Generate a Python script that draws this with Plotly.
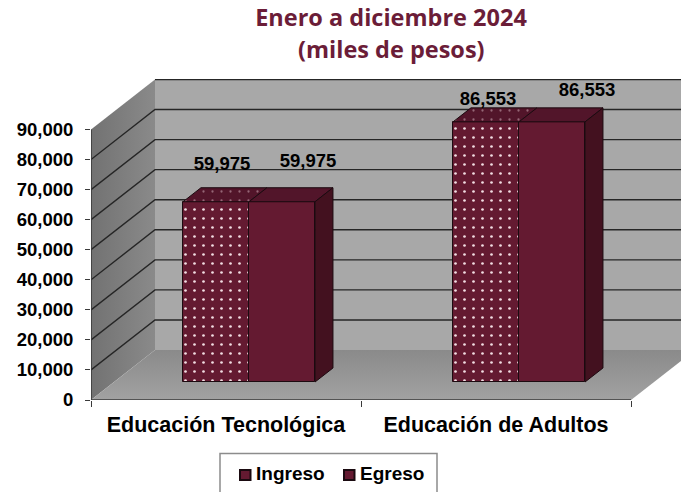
import plotly.graph_objects as go

categories = ["Educación Tecnológica", "Educación de Adultos"]
ingreso = [59975, 86553]
egreso = [59975, 86553]
value_labels = ["59,975", "86,553"]
tick_values = [0, 10000, 20000, 30000, 40000, 50000, 60000, 70000, 80000, 90000]
tick_labels = ["0", "10,000", "20,000", "30,000", "40,000", "50,000", "60,000", "70,000", "80,000", "90,000"]

# pixel geometry
W, H = 681, 492
L, B, T = 91, 400, 79
PX_CAT = 270.0
PX_VAL = 270.5 / 90000
XMAX = (W - L) / PX_CAT
YMAX = (B - T) / PX_VAL
DX = 64 / PX_CAT
DY = 50 / PX_VAL
BAR_W = 66 / PX_CAT
F0, F1 = 18 / 50, 14 / 50  # bar front offset and depth as fractions of the floor depth
TOPVAL = tick_values[-1]
NCAT = len(categories)

MAROON = "#641A31"
SIDE = "#43111F"
TOP = "#52152A"
EDGE = "#1C0A10"
TITLE = "#6B1D38"
FONT = "Liberation Sans"

def px_x(p): return (p - L) / (W - L)
def px_y(p): return (B - p) / (B - T)

fig = go.Figure()

# walls and floor
fig.add_trace(go.Scatter(x=[DX, NCAT + DX, NCAT + DX, DX, DX], y=[DY, DY, TOPVAL + DY, TOPVAL + DY, DY],
    fill="toself", mode="none", fillcolor="#A8A8A8", hoverinfo="skip", showlegend=False))
fig.add_trace(go.Scatter(x=[0, DX, DX, 0, 0], y=[0, DY, TOPVAL + DY, TOPVAL, 0],
    fill="toself", mode="none", hoverinfo="skip", showlegend=False,
    fillgradient=dict(type="horizontal", colorscale=[[0, "#727272"], [1, "#8A8A8A"]])))
fig.add_trace(go.Scatter(x=[0, NCAT, NCAT + DX, DX, 0], y=[0, 0, DY, DY, 0],
    fill="toself", mode="none", hoverinfo="skip", showlegend=False,
    fillgradient=dict(type="vertical", colorscale=[[0, "#A2A2A2"], [1, "#8A8A8A"]])))

# gridlines
gx, gy = [], []
for v in tick_values[1:]:
    if v < TOPVAL:
        gx += [0, DX, NCAT + DX, None]
        gy += [v, v + DY, v + DY, None]
    else:
        gx += [DX, NCAT + DX, None]
        gy += [v + DY, v + DY, None]
fig.add_trace(go.Scatter(x=gx, y=gy, mode="lines", line=dict(color="#262626", width=1.4),
    hoverinfo="skip", showlegend=False))
# axis lines
fig.add_trace(go.Scatter(x=[0, 0, None, 0, NCAT], y=[0, TOPVAL, None, 0, 0], mode="lines",
    line=dict(color="#3A3A3A", width=1.6), cliponaxis=False, hoverinfo="skip", showlegend=False))

# bars on an overlaid pair of axes, so they sit above the walls
shift = F0 * DX
base = F0 * DY
x_ing = [i + 0.5 + shift - BAR_W / 2 for i in range(NCAT)]
x_egr = [i + 0.5 + shift + BAR_W / 2 for i in range(NCAT)]

fig.add_trace(go.Bar(x=x_ing, y=ingreso, base=base, width=BAR_W, name="Ingreso", xaxis="x2", yaxis="y2",
    marker=dict(color=MAROON, line=dict(color=EDGE, width=1),
                pattern=dict(shape=".", fgcolor="#F2DDE2", bgcolor=MAROON, size=9, solidity=0.07, fillmode="replace")),
    showlegend=False))
fig.add_trace(go.Bar(x=x_egr, y=egreso, base=base, width=BAR_W, name="Egreso", xaxis="x2", yaxis="y2",
    marker=dict(color=MAROON, line=dict(color=EDGE, width=1)), showlegend=False))

ddx, ddy = F1 * DX, F1 * DY
def top_face(xs, vals):
    px, py = [], []
    for x, v in zip(xs, vals):
        t = v + base
        l, r = x - BAR_W / 2, x + BAR_W / 2
        px += [l, r, r + ddx, l + ddx, l, None]
        py += [t, t, t + ddy, t + ddy, t, None]
    return px, py

px, py = top_face(x_ing, ingreso)
fig.add_trace(go.Scatter(x=px, y=py, mode="lines", fill="toself", xaxis="x2", yaxis="y2",
    line=dict(color=EDGE, width=1), fillcolor=TOP, hoverinfo="skip", showlegend=False,
    fillpattern=dict(shape=".", fgcolor="#D8B8C2", bgcolor=TOP, size=9, solidity=0.05)))
px, py = top_face(x_egr, egreso)
fig.add_trace(go.Scatter(x=px, y=py, mode="lines", fill="toself", xaxis="x2", yaxis="y2",
    line=dict(color=EDGE, width=1), fillcolor=TOP, hoverinfo="skip", showlegend=False))

sx, sy = [], []
for x, v in zip(x_egr, egreso):
    r = x + BAR_W / 2
    sx += [r, r + ddx, r + ddx, r, r, None]
    sy += [base, base + ddy, v + base + ddy, v + base, base, None]
fig.add_trace(go.Scatter(x=sx, y=sy, mode="lines", fill="toself", xaxis="x2", yaxis="y2",
    line=dict(color=EDGE, width=1), fillcolor=SIDE, hoverinfo="skip", showlegend=False))

# data labels (nudged by hand in the original)
lab_dx_ing, lab_dy_ing = [6, 2], [-36, -21]
lab_dx_egr, lab_dy_egr = [26, 35], [-39, -31]
lx = [x + d / PX_CAT for x, d in zip(x_ing, lab_dx_ing)] + [x + d / PX_CAT for x, d in zip(x_egr, lab_dx_egr)]
ly = [v + base - d / PX_VAL for v, d in zip(ingreso, lab_dy_ing)] + [v + base - d / PX_VAL for v, d in zip(egreso, lab_dy_egr)]
fig.add_trace(go.Scatter(x=lx, y=ly, text=value_labels + value_labels, mode="text", textposition="middle center",
    xaxis="x2", yaxis="y2", cliponaxis=False, hoverinfo="skip", showlegend=False,
    textfont=dict(family=FONT, size=18.5, color="#000000", weight="bold")))

shapes = [
    dict(type="rect", xref="paper", yref="paper", x0=px_x(220), x1=px_x(437), y0=px_y(500), y1=px_y(453.5),
         line=dict(color="#8C8C8C", width=1.5), fillcolor="#FFFFFF"),
    dict(type="rect", xref="paper", yref="paper", x0=px_x(240), x1=px_x(250.5), y0=px_y(480), y1=px_y(470),
         line=dict(color="#1A0A10", width=2), fillcolor=MAROON),
    dict(type="rect", xref="paper", yref="paper", x0=px_x(344), x1=px_x(354.5), y0=px_y(480), y1=px_y(470),
         line=dict(color="#1A0A10", width=2), fillcolor=MAROON),
]
annotations = [
    dict(text="Ingreso", xref="paper", yref="paper", x=px_x(254), y=px_y(473.5), xanchor="left", yanchor="middle",
         showarrow=False, font=dict(family=FONT, size=19, color="#000000", weight="bold")),
    dict(text="Egreso", xref="paper", yref="paper", x=px_x(358), y=px_y(473.5), xanchor="left", yanchor="middle",
         showarrow=False, font=dict(family=FONT, size=19, color="#000000", weight="bold")),
    dict(text="(miles de pesos)", xref="paper", yref="paper", x=px_x(391), y=px_y(48.5), xanchor="center", yanchor="middle",
         showarrow=False, font=dict(family="Open Sans", size=23.5, color=TITLE, weight="bold")),
]

fig.update_layout(
    width=W, height=H, autosize=False,
    margin=dict(l=L, r=0, t=T, b=H - B, pad=0),
    paper_bgcolor="#FFFFFF", plot_bgcolor="rgba(0,0,0,0)",
    barmode="overlay", showlegend=False, bargap=0,
    title=dict(text="Enero a diciembre 2024", x=391 / W, xanchor="center",
               y=1 - 17.5 / H, yanchor="middle",
               font=dict(family="Open Sans", size=23.5, color=TITLE, weight="bold")),
    xaxis=dict(range=[0, XMAX], tickvals=[i + 0.5 for i in range(NCAT)], ticktext=categories,
               ticks="", showgrid=False, zeroline=False, showline=False, ticklabelstandoff=9,
               tickfont=dict(family=FONT, size=21.5, color="#000000", weight="bold"),
               minor=dict(tickvals=list(range(NCAT + 1)), ticks="outside", ticklen=6, tickwidth=1.2,
                          tickcolor="#3A3A3A", showgrid=False)),
    yaxis=dict(range=[0, YMAX], tickvals=tick_values, ticktext=tick_labels, ticks="outside", ticklen=5,
               tickwidth=1.2, tickcolor="#3A3A3A", showgrid=False, zeroline=False, showline=False,
               ticklabelstandoff=8, tickfont=dict(family=FONT, size=18.5, color="#000000", weight="bold")),
    xaxis2=dict(range=[0, XMAX], overlaying="x", visible=False, matches="x"),
    yaxis2=dict(range=[0, YMAX], overlaying="y", visible=False, matches="y"),
    shapes=shapes, annotations=annotations,
)

fig.write_html("out.html", config={"displayModeBar": False},
               post_script="document.body.style.margin='0';document.body.style.overflow='hidden';")
